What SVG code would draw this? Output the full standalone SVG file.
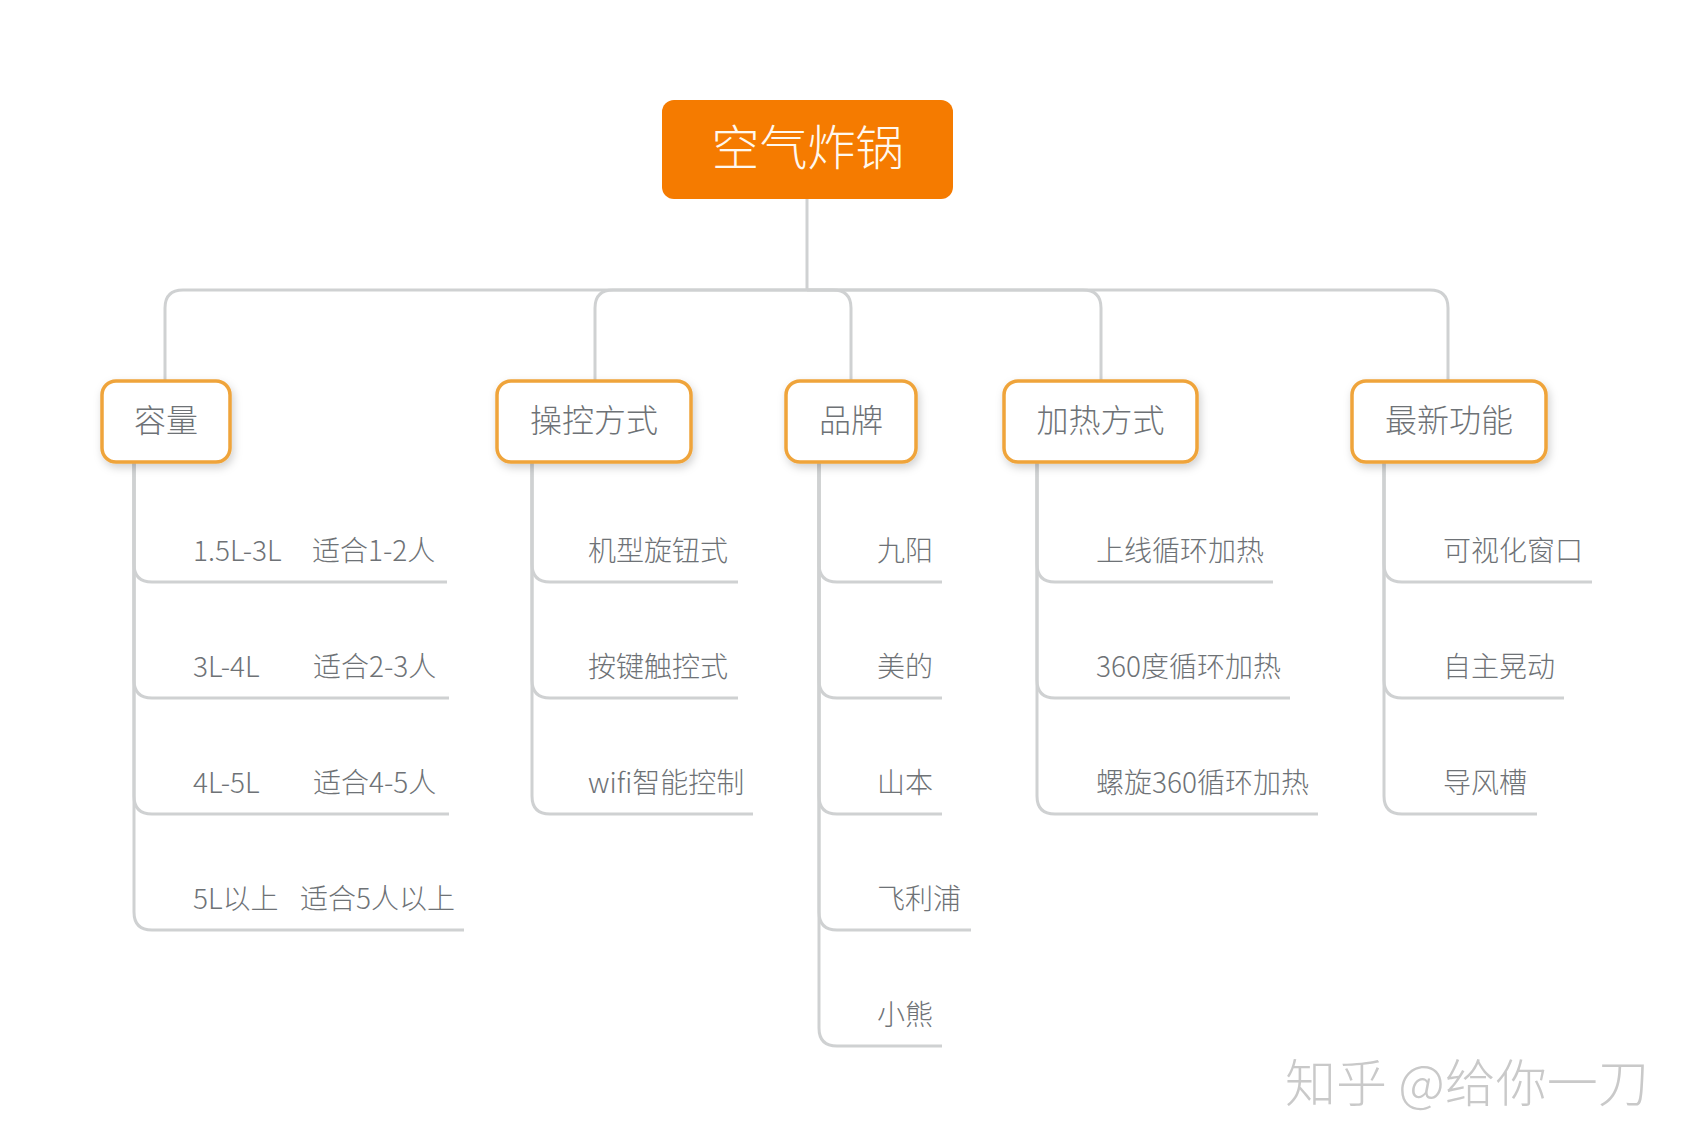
<svg xmlns="http://www.w3.org/2000/svg" width="1692" height="1148" viewBox="0 0 1692 1148">
<style>
.conn{fill:none;stroke:#CFD1D2;stroke-width:3;stroke-linecap:butt}
.box{fill:#FFFFFF;stroke:#EFA43A;stroke-width:3.5}
.root{fill:#F57B00}
.t{font-family:"Noto Sans CJK SC","Noto Sans",sans-serif;dominant-baseline:central;font-weight:300}
.rt{font-size:48px;fill:#FFF8EE;text-anchor:middle}
.nt{font-size:32px;fill:#6E7276;text-anchor:middle}
.ct{font-size:28px;fill:#6E7276}
.wm{font-size:51px;fill:#C9C9C9}
</style>
<defs>
<filter id="sh" x="-20%" y="-20%" width="140%" height="160%">
<feDropShadow dx="2" dy="4" stdDeviation="4" flood-color="#000" flood-opacity="0.18"/>
</filter>
</defs>
<rect width="1692" height="1148" fill="#FFFFFF"/>
<g id="connectors">
<path class="conn" d="M807 199V290"/>
<path class="conn" d="M807 290H183Q165 290 165 308V381"/>
<path class="conn" d="M807 290H613Q595 290 595 308V381"/>
<path class="conn" d="M807 290H833Q851 290 851 308V381"/>
<path class="conn" d="M807 290H1083Q1101 290 1101 308V381"/>
<path class="conn" d="M807 290H1430Q1448 290 1448 308V381"/>
<path class="conn" d="M134 462V564Q134 582 152 582H447"/>
<path class="conn" d="M134 462V680Q134 698 152 698H449"/>
<path class="conn" d="M134 462V796Q134 814 152 814H449"/>
<path class="conn" d="M134 462V912Q134 930 152 930H464"/>
<path class="conn" d="M532 462V564Q532 582 550 582H738"/>
<path class="conn" d="M532 462V680Q532 698 550 698H738"/>
<path class="conn" d="M532 462V796Q532 814 550 814H753"/>
<path class="conn" d="M819 462V564Q819 582 837 582H942"/>
<path class="conn" d="M819 462V680Q819 698 837 698H942"/>
<path class="conn" d="M819 462V796Q819 814 837 814H942"/>
<path class="conn" d="M819 462V912Q819 930 837 930H971"/>
<path class="conn" d="M819 462V1028Q819 1046 837 1046H942"/>
<path class="conn" d="M1037 462V564Q1037 582 1055 582H1273"/>
<path class="conn" d="M1037 462V680Q1037 698 1055 698H1290"/>
<path class="conn" d="M1037 462V796Q1037 814 1055 814H1318"/>
<path class="conn" d="M1384 462V564Q1384 582 1402 582H1592"/>
<path class="conn" d="M1384 462V680Q1384 698 1402 698H1564"/>
<path class="conn" d="M1384 462V796Q1384 814 1402 814H1537"/>
</g>
<g id="root">
<rect class="root" x="662" y="100" width="291" height="99" rx="12"/>
<text class="t rt" x="807.5" y="144">空气炸锅</text>
</g>
<g id="n-capacity">
<rect class="box" filter="url(#sh)" x="102" y="381" width="128" height="81" rx="14"/>
<text class="t nt" x="166" y="418">容量</text>
</g>
<g id="n-control">
<rect class="box" filter="url(#sh)" x="497" y="381" width="194" height="81" rx="14"/>
<text class="t nt" x="594" y="418">操控方式</text>
</g>
<g id="n-brand">
<rect class="box" filter="url(#sh)" x="786" y="381" width="130" height="81" rx="14"/>
<text class="t nt" x="851" y="418">品牌</text>
</g>
<g id="n-heating">
<rect class="box" filter="url(#sh)" x="1004" y="381" width="193" height="81" rx="14"/>
<text class="t nt" x="1100.5" y="418">加热方式</text>
</g>
<g id="n-features">
<rect class="box" filter="url(#sh)" x="1352" y="381" width="194" height="81" rx="14"/>
<text class="t nt" x="1449" y="418">最新功能</text>
</g>
<g id="c-capacity-1"><text class="t ct" y="549"><tspan x="193">1.5L-3L</tspan><tspan x="312">适合1-2人</tspan></text></g>
<g id="c-capacity-2"><text class="t ct" y="665"><tspan x="193">3L-4L</tspan><tspan x="313">适合2-3人</tspan></text></g>
<g id="c-capacity-3"><text class="t ct" y="781"><tspan x="193">4L-5L</tspan><tspan x="313">适合4-5人</tspan></text></g>
<g id="c-capacity-4"><text class="t ct" y="897"><tspan x="193">5L以上</tspan><tspan x="300">适合5人以上</tspan></text></g>
<g id="c-control-1"><text class="t ct" x="588" y="549">机型旋钮式</text></g>
<g id="c-control-2"><text class="t ct" x="588" y="665">按键触控式</text></g>
<g id="c-control-3"><text class="t ct" x="588" y="781">wifi智能控制</text></g>
<g id="c-brand-1"><text class="t ct" x="877" y="549">九阳</text></g>
<g id="c-brand-2"><text class="t ct" x="877" y="665">美的</text></g>
<g id="c-brand-3"><text class="t ct" x="877" y="781">山本</text></g>
<g id="c-brand-4"><text class="t ct" x="877" y="897">飞利浦</text></g>
<g id="c-brand-5"><text class="t ct" x="877" y="1013">小熊</text></g>
<g id="c-heating-1"><text class="t ct" x="1096" y="549">上线循环加热</text></g>
<g id="c-heating-2"><text class="t ct" x="1096" y="665">360度循环加热</text></g>
<g id="c-heating-3"><text class="t ct" x="1096" y="781">螺旋360循环加热</text></g>
<g id="c-features-1"><text class="t ct" x="1443" y="549">可视化窗口</text></g>
<g id="c-features-2"><text class="t ct" x="1443" y="665">自主晃动</text></g>
<g id="c-features-3"><text class="t ct" x="1443" y="781">导风槽</text></g>
<text class="t wm" x="1285" y="1080">知乎 @给你一刀</text>
</svg>
